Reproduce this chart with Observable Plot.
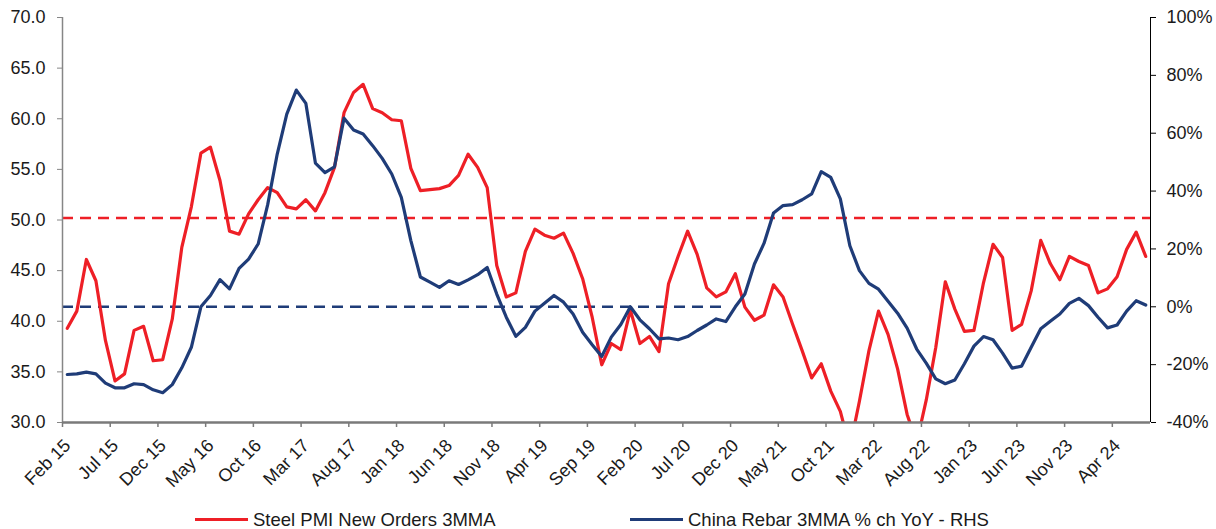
<!DOCTYPE html>
<html>
<head>
<meta charset="utf-8">
<script src="https://cdn.jsdelivr.net/npm/d3@7"></script>
<script src="https://cdn.jsdelivr.net/npm/@observablehq/plot@0.6"></script>
<style>
  html, body { margin: 0; padding: 0; background: #fff; }
  body { width: 1216px; height: 529px; overflow: hidden; font-family: "Liberation Sans", Arial, sans-serif; }
  #legend { position: relative; width: 1216px; height: 24px; font-size: 18.5px; color: #1a1a1a; }
  #legend .item { position: absolute; top: 0; height: 29px; display: flex; align-items: center; white-space: nowrap; }
  #legend .swatch { display: inline-block; width: 53px; height: 3px; margin-right: 5px; }
</style>
</head>
<body>
<div id="chart"></div>
<div id="legend"></div>
<script>
// Monthly observations, Feb 2015 to Jul 2024 (114 months)
const tickLabels = ["Feb 15", "Jul 15", "Dec 15", "May 16", "Oct 16", "Mar 17", "Aug 17", "Jan 18",
  "Jun 18", "Nov 18", "Apr 19", "Sep 19", "Feb 20", "Jul 20", "Dec 20", "May 21", "Oct 21",
  "Mar 22", "Aug 22", "Jan 23", "Jun 23", "Nov 23", "Apr 24"];

// Steel PMI New Orders, 3-month moving average (left axis)
const steelPMI = [
  39.3, 41.0, 46.1, 44.0, 38.1, 34.1, 34.8, 39.1, 39.5, 36.1,
  36.2, 40.2, 47.3, 51.3, 56.6, 57.2, 53.9, 48.9, 48.6, 50.6,
  52.0, 53.2, 52.7, 51.3, 51.1, 52.0, 50.9, 52.7, 55.2, 60.6,
  62.6, 63.4, 61.0, 60.6, 59.9, 59.8, 55.1, 52.9, 53.0, 53.1,
  53.4, 54.4, 56.5, 55.2, 53.2, 45.5, 42.4, 42.8, 46.9, 49.1,
  48.5, 48.2, 48.7, 46.7, 44.2, 40.4, 35.7, 37.8, 37.2, 41.1,
  37.8, 38.5, 37.0, 43.7, 46.4, 48.9, 46.6, 43.3, 42.4, 42.9,
  44.7, 41.4, 40.1, 40.6, 43.6, 42.4, 39.7, 37.1, 34.4, 35.8,
  33.1, 31.1, 27.5, 32.1, 37.1, 41.0, 38.7, 35.3, 30.8, 28.0,
  32.2, 37.4, 43.9, 41.2, 39.0, 39.1, 43.8, 47.6, 46.3, 39.1,
  39.7, 43.0, 48.0, 45.7, 44.1, 46.4, 45.9, 45.5, 42.8, 43.2,
  44.4, 47.1, 48.8, 46.4
];

// China rebar price, 3-month moving average, % change year on year (right axis)
const rebarYoY = [
  -23.4, -23.2, -22.6, -23.2, -26.4, -28.0, -28.0, -26.6, -26.9, -28.7,
  -29.7, -26.9, -21.1, -14.0, 0.0, 3.9, 9.4, 6.2, 13.3, 16.5,
  21.7, 35.3, 52.8, 66.6, 74.9, 70.3, 49.7, 46.4, 48.4, 65.2,
  61.1, 59.7, 55.7, 51.3, 45.9, 37.8, 22.9, 10.3, 8.5, 6.7,
  9.0, 7.7, 9.3, 11.1, 13.6, 4.4, -3.6, -10.2, -7.1, -1.5,
  1.2, 3.9, 1.6, -2.5, -8.8, -13.1, -17.2, -10.5, -6.1, 0.0,
  -4.5, -7.6, -11.1, -10.8, -11.4, -10.3, -8.2, -6.3, -4.2, -5.1,
  0.0, 4.4, 14.8, 21.9, 32.4, 35.0, 35.3, 37.0, 39.0, 46.7,
  44.7, 37.3, 21.1, 12.5, 8.1, 6.1, 1.9, -2.2, -7.4, -14.6,
  -19.5, -24.9, -26.6, -25.3, -19.7, -13.6, -10.3, -11.4, -16.0, -21.2,
  -20.5, -14.0, -7.6, -5.0, -2.5, 1.2, 2.9, 0.4, -3.6, -7.3,
  -6.3, -1.5, 2.1, 0.6
];

// Reference levels and the month range the rebar reference spans
const steelRef = 50.2;
const rebarRef = 0;
const rebarRefEnd = 69;

const leftTicks = [30, 35, 40, 45, 50, 55, 60, 65, 70];
const rightTicks = [-40, -20, 0, 20, 40, 60, 80, 100];

const RED = "#ee1f26";
const BLUE = "#1f3c78";
const FONT = "'Liberation Sans', Arial, sans-serif";

// Right-hand percentages share the left scale through a linear mapping
const leftDomain = [30, 70];
const rightDomain = [-40, 100];
const toLeft = p => leftDomain[0] + (p - rightDomain[0]) * (leftDomain[1] - leftDomain[0]) / (rightDomain[1] - rightDomain[0]);
const toRight = v => rightDomain[0] + (v - leftDomain[0]) * (rightDomain[1] - rightDomain[0]) / (leftDomain[1] - leftDomain[0]);

const n = steelPMI.length;
const idx = d3.range(n);
const steelRows = idx.map(i => ({i, v: steelPMI[i]}));
const rebarRows = idx.map(i => ({i, v: toLeft(rebarYoY[i])}));
// month ticks sit on category boundaries, every fifth month
const tickRows = tickLabels.map((label, k) => ({pos: k * 5 - 0.5, label}));

const chart = Plot.plot({
  width: 1216,
  height: 505,
  marginLeft: 62,
  marginRight: 66,
  marginTop: 17,
  marginBottom: 83,
  style: {fontFamily: FONT, fontSize: "18px", color: "#1a1a1a", background: "#fff"},
  x: {type: "linear", domain: [-0.5, n - 0.5]},
  y: {type: "linear", domain: leftDomain},
  marks: [
    // reference levels
    Plot.ruleY([steelRef], {stroke: RED, strokeWidth: 2.5, strokeDasharray: "11,7"}),
    Plot.ruleY([toLeft(rebarRef)], {x1: -0.5, x2: rebarRefEnd, stroke: BLUE, strokeWidth: 2.5, strokeDasharray: "11,7"}),
    // series
    Plot.line(steelRows, {x: "i", y: "v", stroke: RED, strokeWidth: 3.2, clip: "frame"}),
    Plot.line(rebarRows, {x: "i", y: "v", stroke: BLUE, strokeWidth: 3.2, clip: "frame"}),
    // axis lines
    Plot.ruleX([-0.5], {stroke: "#868686", strokeWidth: 1.5}),
    Plot.ruleX([n - 0.5], {stroke: "#000", strokeWidth: 1}),
    Plot.ruleY([leftDomain[0]], {stroke: "#7a7a7a", strokeWidth: 2.5}),
    // left axis
    Plot.axisY(leftTicks, {
      anchor: "left", tickSize: 5, tickPadding: 12, stroke: "#868686",
      tickFormat: d3.format(".1f"), label: null, fontSize: 18, fill: "#1a1a1a"
    }),
    // right axis (percent)
    Plot.axisY(rightTicks.map(toLeft), {
      anchor: "right", tickSize: 5, tickPadding: 11, stroke: "#000",
      tickFormat: v => `${Math.round(toRight(v))}%`, label: null, fontSize: 18, fill: "#1a1a1a"
    }),
    // bottom axis ticks
    Plot.axisX(tickRows.map(d => d.pos), {
      anchor: "bottom", tickSize: 5, stroke: "#7a7a7a", strokeWidth: 1.5,
      tickFormat: () => "", label: null
    }),
    // month labels, slanted
    Plot.text(tickRows, {
      x: "pos", text: "label", frameAnchor: "bottom",
      rotate: -45, textAnchor: "end", lineAnchor: "middle",
      dx: 5, dy: 20, fontSize: 18, fill: "#1a1a1a"
    })
  ]
});
document.getElementById("chart").appendChild(chart);

// legend below the chart
const legendItems = [
  {label: "Steel PMI New Orders 3MMA", color: RED, left: 195},
  {label: "China Rebar 3MMA % ch YoY - RHS", color: BLUE, left: 630}
];
const legend = document.getElementById("legend");
for (const it of legendItems) {
  const div = document.createElement("div");
  div.className = "item";
  div.style.left = it.left + "px";
  const sw = document.createElement("span");
  sw.className = "swatch";
  sw.style.background = it.color;
  const tx = document.createElement("span");
  tx.textContent = it.label;
  div.appendChild(sw);
  div.appendChild(tx);
  legend.appendChild(div);
}
</script>
</body>
</html>
